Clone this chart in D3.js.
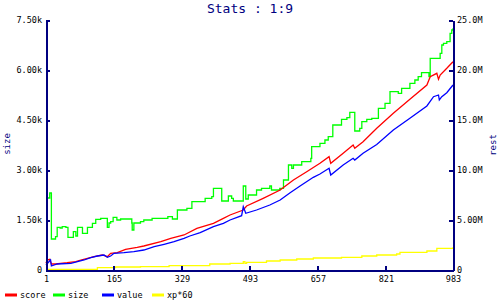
<!DOCTYPE html>
<html>
<head>
<meta charset="utf-8">
<script src="https://cdn.jsdelivr.net/npm/d3@7"></script>
<style>
body { margin:0; background:#fff; }
svg text { font-family:"DejaVu Sans Mono", monospace; }
</style>
</head>
<body>
<svg id="chart" width="500" height="300"></svg>
<script>
// donnees : [index, valeur]
var xTicks = [1, 165, 329, 493, 657, 821, 983];
var leftTicks = [0, 1500, 3000, 4500, 6000, 7500];
var rightTicks = [0, 5, 10, 15, 20, 25]; // en millions

// size (axe gauche)
var sizeData = [[1,1410],[4,2160],[10,2310],[14,930],[24,1000],[28,1280],[35,1260],[40,1300],[49,1280],[54,980],[67,1150],[73,1020],[77,1280],[89,1100],[101,1280],[113,1400],[121,1520],[133,1550],[149,1280],[153,1410],[157,1450],[163,1580],[172,1500],[181,1530],[206,1530],[208,1410],[209,1200],[213,1410],[229,1450],[237,1500],[257,1550],[295,1600],[306,1530],[318,1800],[341,1850],[353,2050],[385,2150],[401,2200],[405,2450],[425,2070],[441,2220],[449,2150],[453,2070],[477,2520],[483,2130],[489,2250],[509,2400],[521,2450],[541,2520],[545,2400],[565,2450],[574,2700],[586,3150],[594,3050],[598,3150],[618,3250],[640,3350],[642,3700],[662,3800],[674,3900],[682,4000],[693,4350],[714,4520],[727,4570],[734,4730],[746,4170],[758,4250],[763,4450],[775,4520],[787,4550],[803,4850],[819,5000],[831,5350],[851,5300],[859,5450],[879,5600],[891,5700],[899,5800],[907,5920],[925,5800],[928,6350],[952,6500],[956,6750],[960,6800],[968,6850],[976,7100],[980,7200],[983,7250]];

// score, value, xp*60 (axe droit, millions)
var scoreData = [[1,0.67],[4,1.0],[10,1.07],[14,0.6],[24,0.6],[36,0.67],[52,0.73],[73,0.83],[85,1.0],[117,1.33],[137,1.5],[149,1.33],[157,1.67],[173,1.73],[193,2.07],[221,2.27],[237,2.4],[278,2.83],[302,3.17],[334,3.5],[365,4.17],[405,4.67],[429,5.17],[445,5.5],[477,6.0],[485,6.4],[525,7.17],[566,8.0],[598,9.0],[630,9.83],[662,10.67],[684,11.33],[688,10.67],[718,11.67],[742,12.5],[746,12.17],[766,12.83],[799,14.17],[839,15.67],[879,17.07],[920,18.5],[928,19.33],[944,19.67],[948,19.07],[952,19.5],[968,20.17],[983,20.83]];

var valueData = [[1,0.5],[8,0.83],[12,1.0],[14,0.4],[28,0.6],[61,0.67],[77,0.83],[93,1.0],[109,1.23],[125,1.4],[141,1.5],[149,1.27],[157,1.4],[165,1.67],[189,1.73],[213,1.83],[237,2.0],[262,2.33],[286,2.57],[310,2.83],[334,3.17],[348,3.4],[373,3.73],[405,4.33],[429,4.67],[445,5.0],[473,5.43],[477,6.33],[483,5.67],[509,6.0],[541,6.5],[566,7.0],[590,7.73],[614,8.4],[646,9.27],[662,9.6],[684,10.17],[688,9.5],[718,10.5],[742,11.17],[746,11.0],[766,11.67],[799,12.55],[839,14.0],[879,15.17],[920,16.4],[936,17.33],[948,17.5],[950,17.0],[956,17.33],[968,17.73],[983,18.5]];

var xpData = [[1,0.07],[125,0.23],[169,0.3],[229,0.33],[298,0.43],[396,0.6],[445,0.67],[477,0.83],[481,0.67],[485,0.77],[533,0.9],[566,1.0],[606,1.1],[646,1.2],[714,1.27],[763,1.4],[799,1.5],[847,1.6],[855,1.77],[920,1.9],[944,2.17],[983,2.27]];

var legendNames = ["score", "size", "value", "xp*60"];
var legendColors = ["#ff0000", "#00ff00", "#0000ff", "#ffff00"];

var navy = "#000080";
var svg = d3.select("#chart");
var plotLeft = 46, plotRight = 453, plotTop = 20, plotBottom = 270;

var x = d3.scaleLinear().domain([1, 983]).range([plotLeft, plotRight]);
var yL = d3.scaleLinear().domain([0, 7500]).range([plotBottom, plotTop]);
var yR = d3.scaleLinear().domain([0, 25]).range([plotBottom, plotTop]);

function fmtL(v){ return v == 0 ? "0" : d3.format(".3r")(v/1000) + "k"; }
function fmtR(v){ return v == 0 ? "0" : d3.format(".3r")(v) + "M"; }

// titre
svg.append("text").attr("x", 250).attr("y", 13).attr("text-anchor", "middle")
  .style("font-size", "13px").style("fill", navy).text("Stats : 1:9");

// courbes
function drawLine(data, y, color, curve){
  var line = d3.line().x(function(d){ return x(d[0]); }).y(function(d){ return y(d[1]); }).curve(curve);
  svg.append("path").datum(data).attr("d", line)
    .attr("fill", "none").attr("stroke", color).attr("stroke-width", 1.3);
}
drawLine(xpData, yR, "#ffff00", d3.curveStepAfter);
drawLine(sizeData, yL, "#00ff00", d3.curveStepAfter);
drawLine(scoreData, yR, "#ff0000", d3.curveLinear);
drawLine(valueData, yR, "#0000ff", d3.curveLinear);

// axes
function styleAxis(g){
  g.selectAll("path, line").attr("stroke", navy).attr("stroke-width", 2).attr("shape-rendering", "crispEdges");
  g.selectAll("text").style("font-size", "8.5px").attr("fill", "#000");
}
svg.append("g").attr("transform", "translate(" + plotLeft + ",0)")
  .call(d3.axisLeft(yL).tickValues(leftTicks).tickFormat(fmtL).tickSizeInner(-4).tickSizeOuter(0).tickPadding(4))
  .call(styleAxis);
svg.append("g").attr("transform", "translate(" + plotRight + ",0)")
  .call(d3.axisRight(yR).tickValues(rightTicks).tickFormat(fmtR).tickSizeInner(-4).tickSizeOuter(0).tickPadding(4))
  .call(styleAxis);
svg.append("g").attr("transform", "translate(0," + plotBottom + ")")
  .call(d3.axisBottom(x).tickValues(xTicks).tickFormat(d3.format("d")).tickSizeInner(-4).tickSizeOuter(0).tickPadding(6))
  .call(styleAxis);

// titres des axes
svg.append("text").attr("transform", "translate(10,144) rotate(-90)").attr("text-anchor", "middle")
  .style("font-size", "9px").style("fill", navy).text("size");
svg.append("text").attr("transform", "translate(496,145) rotate(-90)").attr("text-anchor", "middle")
  .style("font-size", "9px").style("fill", navy).text("rest");

// legende
var lx = [5, 53, 102, 152];
legendNames.forEach(function(n, i){
  svg.append("line").attr("x1", lx[i]).attr("x2", lx[i] + 12).attr("y1", 295).attr("y2", 295)
    .attr("stroke", legendColors[i]).attr("stroke-width", 3);
  svg.append("text").attr("x", lx[i] + 15).attr("y", 298).style("font-size", "8.5px").attr("fill", "#000").text(n);
});
</script>
</body>
</html>
